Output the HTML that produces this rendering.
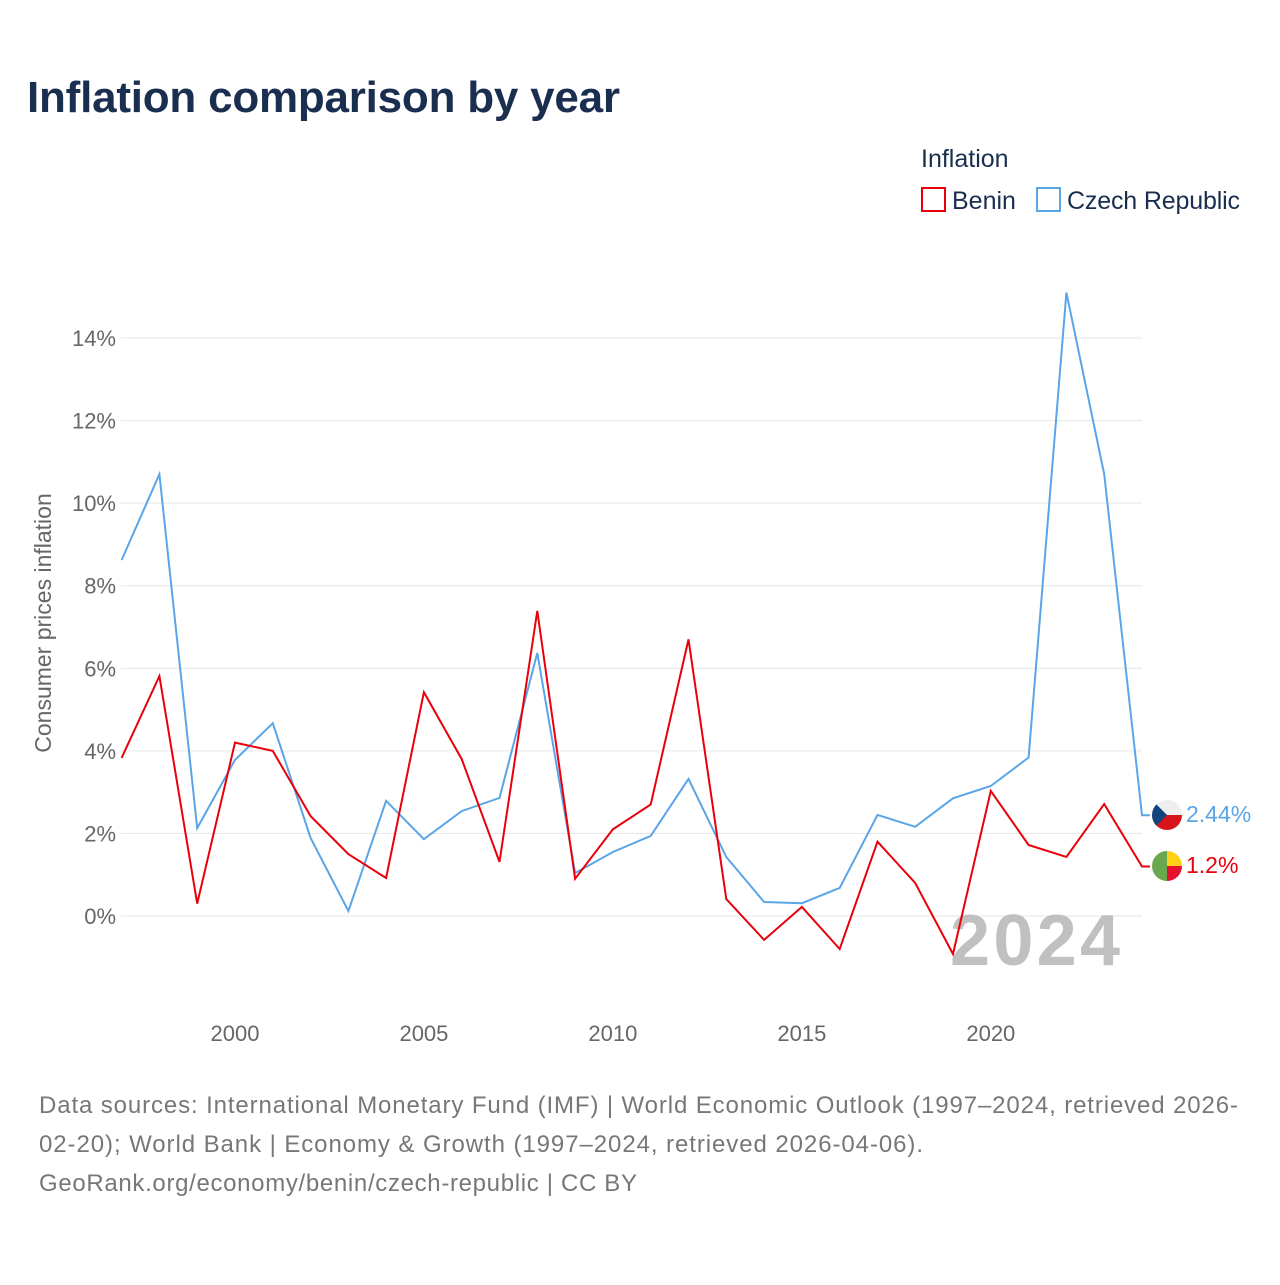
<!DOCTYPE html>
<html><head><meta charset="utf-8"><style>
body{margin:0;background:#fff;font-family:"Liberation Sans",sans-serif;}
</style></head><body>
<svg width="1280" height="1280" xmlns="http://www.w3.org/2000/svg">
<text x="27" y="112" font-size="44" font-weight="bold" fill="#1a2e4f" textLength="593">Inflation comparison by year</text>
<text x="921" y="167" font-size="25" fill="#1a2e4f">Inflation</text>
<g><rect x="922" y="188" width="23" height="23" fill="none" stroke="#e8000b" stroke-width="2"/><text x="952" y="209" font-size="25" fill="#1a2e4f">Benin</text></g>
<g><rect x="1037" y="188" width="23" height="23" fill="none" stroke="#5aa5e8" stroke-width="2"/><text x="1067" y="209" font-size="25" fill="#1a2e4f" textLength="173">Czech Republic</text></g>
<g id="grid"></g>
<g id="yticks"></g>
<g id="xticks"></g>
<text transform="translate(51,623) rotate(-90)" text-anchor="middle" font-size="23" fill="#666">Consumer prices inflation</text>
<text x="950" y="965" font-size="72" font-weight="bold" fill="#c0c0c0" textLength="170">2024</text>
<g id="series"></g>
<g><clipPath id="c1"><circle cx="1167" cy="815" r="15"/></clipPath><g clip-path="url(#c1)"><rect x="1150" y="798" width="34" height="17" fill="#eee"/><rect x="1150" y="815" width="34" height="17" fill="#d7141a"/><polygon points="1150,798 1167,815 1150,832" fill="#11457e"/></g></g>
<g><clipPath id="c2"><circle cx="1167" cy="866" r="15"/></clipPath><g clip-path="url(#c2)"><rect x="1150" y="849" width="17" height="34" fill="#6aa84f"/><rect x="1167" y="849" width="17" height="17" fill="#fcd116"/><rect x="1167" y="866" width="17" height="17" fill="#e8112d"/></g></g>
<text x="1186" y="822" font-size="23" fill="#5aa5e8">2.44%</text>
<text x="1186" y="873" font-size="23" fill="#e8000b">1.2%</text>
<text font-size="24" fill="#777"><tspan x="39" y="1113" textLength="1199">Data sources: International Monetary Fund (IMF) | World Economic Outlook (1997–2024, retrieved 2026-</tspan><tspan x="39" y="1152" textLength="884">02-20); World Bank | Economy &amp; Growth (1997–2024, retrieved 2026-04-06).</tspan><tspan x="39" y="1191" textLength="598">GeoRank.org/economy/benin/czech-republic | CC BY</tspan></text>
</svg>
<script>
const years=[1997,1998,1999,2000,2001,2002,2003,2004,2005,2006,2007,2008,2009,2010,2011,2012,2013,2014,2015,2016,2017,2018,2019,2020,2021,2022,2023,2024];
const czech=[8.62,10.7,2.13,3.78,4.67,1.89,0.12,2.79,1.86,2.54,2.86,6.37,1.04,1.55,1.94,3.32,1.43,0.34,0.31,0.68,2.45,2.16,2.85,3.15,3.84,15.1,10.7,2.44];
const benin=[3.83,5.81,0.3,4.2,4.0,2.42,1.5,0.92,5.42,3.8,1.31,7.39,0.9,2.1,2.7,6.7,0.41,-0.58,0.22,-0.8,1.8,0.8,-0.92,3.03,1.72,1.43,2.71,1.2];
const yTicks=[0,2,4,6,8,10,12,14];
const xTicks=[2000,2005,2010,2015,2020];
const NS="http://www.w3.org/2000/svg";
const X=y=>121.6+(y-1997)*(1142-121.6)/27;
const Y=v=>916-v*(916-338)/14;
function mk(t,a,p){const e=document.createElementNS(NS,t);for(const k in a)e.setAttribute(k,a[k]);document.getElementById(p).appendChild(e);return e;}
yTicks.forEach(v=>{
 const l=mk('line',{x1:121,x2:1142,y1:Y(v),y2:Y(v),stroke:'#e6e6e6','stroke-width':1},'grid');
 
 
 const t=mk('text',{x:116,y:Y(v)+8,'text-anchor':'end','font-size':22,fill:'#666'},'yticks');
 t.textContent=v+'%';
 
 
});
xTicks.forEach(v=>{
 const t=mk('text',{x:X(v),y:1041,'text-anchor':'middle','font-size':22,fill:'#666'},'xticks');
 t.textContent=v;
 
 
});
function line(d,c,name){
 let pts=years.map((y,i)=>X(y).toFixed(1)+','+Y(d[i]).toFixed(1));
 pts.push((X(2024)+8).toFixed(1)+','+Y(d[d.length-1]).toFixed(1));
 const p=mk('polyline',{points:pts.join(' '),fill:'none',stroke:c,'stroke-width':2,'stroke-linejoin':'miter'},'series');
 
 
}
line(czech,'#5aa5e8','czech-republic-line');
line(benin,'#e8000b','benin-line');
</script>
</body></html>
